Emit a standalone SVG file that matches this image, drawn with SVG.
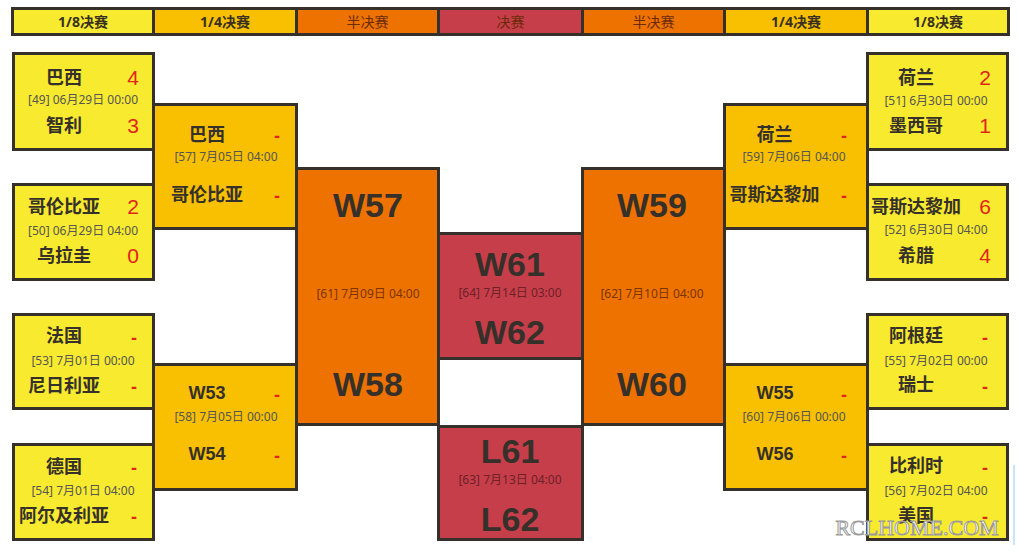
<svg xmlns="http://www.w3.org/2000/svg" width="1017" height="553" viewBox="0 0 1017 553">
<style>
.box{stroke:#35302a;stroke-width:3}
.y{fill:#f8ea2e}.a{fill:#f8c000}.o{fill:#ee7200}.r{fill:#c63e49}
.hd{font-family:"Noto Sans","Noto Sans CJK SC",sans-serif;font-size:14px;text-anchor:middle}
.hb{font-weight:bold;fill:#3a3020}
.hn{fill:#6b2a08}
.nm{font-family:"Noto Sans CJK SC","Liberation Sans",sans-serif;font-weight:bold;font-size:18px;fill:#35302a;text-anchor:middle}
.wq{font-family:"Liberation Sans","Noto Sans",sans-serif;font-weight:bold;font-size:18px;fill:#35302a;text-anchor:middle}
.sc{font-family:"Liberation Sans","Noto Sans",sans-serif;font-size:21px;fill:#e2231a;text-anchor:middle}
.ds{font-family:"Liberation Sans",sans-serif;font-weight:bold;font-size:18px;fill:#e2231a;text-anchor:middle}
.dt{font-family:"Noto Sans","Noto Sans CJK SC",sans-serif;font-size:12px;fill:#555;text-anchor:middle}
.dto{fill:#7a3500}.dtr{fill:#6e2129}
.big{font-family:"Liberation Sans","Noto Sans",sans-serif;font-weight:bold;font-size:34px;fill:#35302a;text-anchor:middle}
</style>
<rect width="1017" height="553" fill="#ffffff"/>
<g id="header">
<rect class="box y" x="12.5" y="8.5" width="141" height="26"/>
<rect class="box a" x="153.5" y="8.5" width="143" height="26"/>
<rect class="box o" x="296.5" y="8.5" width="142" height="26"/>
<rect class="box r" x="438.5" y="8.5" width="144" height="26"/>
<rect class="box o" x="582.5" y="8.5" width="142" height="26"/>
<rect class="box a" x="724.5" y="8.5" width="143" height="26"/>
<rect class="box y" x="867.5" y="8.5" width="141" height="26"/>
<text class="hd hb" x="83" y="27">1/8决赛</text>
<text class="hd hb" x="225" y="27">1/4决赛</text>
<text class="hd hn" x="367.5" y="27">半决赛</text>
<text class="hd hn" x="510.5" y="27" fill="#6e2028">决赛</text>
<text class="hd hn" x="653.5" y="27">半决赛</text>
<text class="hd hb" x="796" y="27">1/4决赛</text>
<text class="hd hb" x="938" y="27">1/8决赛</text>
</g>
<g id="connectors"></g>
<g id="m49">
<rect class="box y" x="13.5" y="53.5" width="140" height="96"/>
<text class="nm" x="64" y="84">巴西</text><text class="sc" x="133" y="85">4</text>
<text class="dt" x="83" y="104">[49] 06月29日 00:00</text>
<text class="nm" x="64" y="132">智利</text><text class="sc" x="133" y="133">3</text>
</g>
<g id="m50">
<rect class="box y" x="13.5" y="184.5" width="140" height="95"/>
<text class="nm" x="64" y="213">哥伦比亚</text><text class="sc" x="133" y="214">2</text>
<text class="dt" x="83" y="235">[50] 06月29日 04:00</text>
<text class="nm" x="64" y="262">乌拉圭</text><text class="sc" x="133" y="263">0</text>
</g>
<g id="m53">
<rect class="box y" x="13.5" y="314.5" width="140" height="94"/>
<text class="nm" x="64" y="342">法国</text><text class="ds" x="134" y="344">-</text>
<text class="dt" x="83" y="365">[53] 7月01日 00:00</text>
<text class="nm" x="64" y="392">尼日利亚</text><text class="ds" x="134" y="393">-</text>
</g>
<g id="m54">
<rect class="box y" x="13.5" y="444.5" width="140" height="95"/>
<text class="nm" x="64" y="473">德国</text><text class="ds" x="134" y="474">-</text>
<text class="dt" x="83" y="495">[54] 7月01日 04:00</text>
<text class="nm" x="64" y="522">阿尔及利亚</text><text class="ds" x="134" y="523">-</text>
</g>
<g id="m57">
<rect class="box a" x="153.5" y="104.5" width="143" height="124"/>
<text class="nm" x="207" y="141">巴西</text><text class="ds" x="277" y="142">-</text>
<text class="dt" x="226" y="161">[57] 7月05日 04:00</text>
<text class="nm" x="207" y="201">哥伦比亚</text><text class="ds" x="277" y="202">-</text>
</g>
<g id="m58">
<rect class="box a" x="153.5" y="364.5" width="143" height="125"/>
<text class="wq" x="207" y="399">W53</text><text class="ds" x="277" y="401">-</text>
<text class="dt" x="226" y="421">[58] 7月05日 00:00</text>
<text class="wq" x="207" y="460">W54</text><text class="ds" x="277" y="462">-</text>
</g>
<g id="m61">
<rect class="box o" x="296.5" y="168.5" width="142" height="256"/>
<text class="big" x="368" y="217">W57</text>
<text class="dt dto" x="368" y="298">[61] 7月09日 04:00</text>
<text class="big" x="368" y="396">W58</text>
</g>
<g id="m64">
<rect class="box r" x="438.5" y="233.5" width="144" height="125"/>
<text class="big" x="510" y="276">W61</text>
<text class="dt dtr" x="510" y="297">[64] 7月14日 03:00</text>
<text class="big" x="510" y="344">W62</text>
</g>
<g id="m63">
<rect class="box r" x="438.5" y="426.5" width="144" height="113"/>
<text class="big" x="510" y="463">L61</text>
<text class="dt dtr" x="510" y="484">[63] 7月13日 04:00</text>
<text class="big" x="510" y="531">L62</text>
</g>
<g id="m62">
<rect class="box o" x="582.5" y="168.5" width="142" height="256"/>
<text class="big" x="652" y="217">W59</text>
<text class="dt dto" x="652" y="298">[62] 7月10日 04:00</text>
<text class="big" x="652" y="396">W60</text>
</g>
<g id="m59">
<rect class="box a" x="724.5" y="104.5" width="143" height="124"/>
<text class="nm" x="774.5" y="141">荷兰</text><text class="ds" x="844" y="142">-</text>
<text class="dt" x="794" y="161">[59] 7月06日 04:00</text>
<text class="nm" x="774.5" y="201">哥斯达黎加</text><text class="ds" x="844" y="202">-</text>
</g>
<g id="m60">
<rect class="box a" x="724.5" y="364.5" width="143" height="125"/>
<text class="wq" x="775" y="399">W55</text><text class="ds" x="844" y="401">-</text>
<text class="dt" x="794" y="421">[60] 7月06日 00:00</text>
<text class="wq" x="775" y="460">W56</text><text class="ds" x="844" y="462">-</text>
</g>
<g id="m51">
<rect class="box y" x="867.5" y="53.5" width="140" height="96"/>
<text class="nm" x="916" y="84">荷兰</text><text class="sc" x="985" y="85">2</text>
<text class="dt" x="936" y="105">[51] 6月30日 00:00</text>
<text class="nm" x="916" y="132">墨西哥</text><text class="sc" x="985" y="133">1</text>
</g>
<g id="m52">
<rect class="box y" x="867.5" y="184.5" width="140" height="95"/>
<text class="nm" x="916" y="213">哥斯达黎加</text><text class="sc" x="985" y="214">6</text>
<text class="dt" x="936" y="234">[52] 6月30日 04:00</text>
<text class="nm" x="916" y="262">希腊</text><text class="sc" x="985" y="263">4</text>
</g>
<g id="m55">
<rect class="box y" x="867.5" y="314.5" width="140" height="94"/>
<text class="nm" x="916" y="342">阿根廷</text><text class="ds" x="985" y="344">-</text>
<text class="dt" x="936" y="365">[55] 7月02日 00:00</text>
<text class="nm" x="916" y="391">瑞士</text><text class="ds" x="985" y="393">-</text>
</g>
<g id="m56">
<rect class="box y" x="867.5" y="444.5" width="140" height="95"/>
<text class="nm" x="916" y="472">比利时</text><text class="ds" x="985" y="474">-</text>
<text class="dt" x="936" y="495">[56] 7月02日 04:00</text>
<text class="nm" x="916" y="522">美国</text><text class="ds" x="985" y="523">-</text>
</g>
<g id="watermark">
<line x1="1014" y1="465" x2="1014" y2="545" stroke="#b5def2" stroke-width="1.5"/>
<text x="917" y="535" font-family="Liberation Serif,serif" font-size="22" fill="#ffffff" stroke="#9a9a9a" stroke-width="1" text-anchor="middle">RCLHOME.COM</text>
</g>
</svg>
